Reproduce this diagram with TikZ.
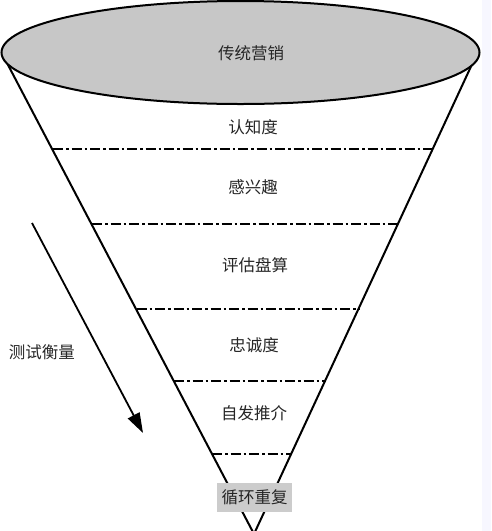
\documentclass[tikz,border=0pt]{standalone}
\usepackage{fontspec}
\newfontfamily\cjk{Noto Sans CJK SC}
\usetikzlibrary{arrows.meta,shapes.geometric}
\begin{document}
\begin{tikzpicture}[x=1pt,y=-1pt,
  lbl/.style={font=\cjk\fontsize{16.5}{19}\selectfont, inner sep=0pt, text=black!85},
  sep/.style={line width=1.7pt, dash pattern=on 10pt off 3pt on 2.5pt off 3pt},
  cone/.style={line width=2pt, line cap=round}]
\useasboundingbox (0,0) rectangle (491,531);
\fill[white] (0,0) rectangle (491,531);
\fill[blue!3!white] (482,0) rectangle (491,531);
\begin{scope}
\clip (0,0) rectangle (491,531);
\coordinate (apex) at (254,534);
\coordinate (tl) at (7,63);
\coordinate (tr) at (474,60);
\draw[cone] (tl) -- (apex) -- (tr);
\end{scope}
% separators
\foreach \yy [count=\i] in {149,224,309,381,454}{
  \coordinate (sl\i) at ({53+0.522*(\yy-149)},\yy);
  \coordinate (sr\i) at ({433-0.465*(\yy-149)},\yy);
  \draw[sep] (sl\i) -- (sr\i);
}
\node[draw, line width=2pt, fill=black!22, ellipse, minimum width=478pt, minimum height=103pt, inner sep=0pt] (top) at (240.5,52.5) {};
\node[lbl] (t0) at (251,53) {传统营销};
\node[lbl] (t1) at (253,127) {认知度};
\node[lbl] (t2) at (253,187) {感兴趣};
\node[lbl] (t3) at (255,265) {评估盘算};
\node[lbl] (t4) at (254,345) {忠诚度};
\node[lbl] (t5) at (254,413) {自发推介};
\node[lbl, fill=black!20, minimum width=75pt, minimum height=29pt] (t6) at (254.5,497.5) {循环重复};
\coordinate (as) at (32,223);
\coordinate (ae) at (143,433);
\draw[line width=1.8pt, -{Triangle[length=20pt,width=13pt]}] (as) -- (ae);
\node[lbl] (m) at (42,352) {测试衡量};
\end{tikzpicture}
\end{document}
